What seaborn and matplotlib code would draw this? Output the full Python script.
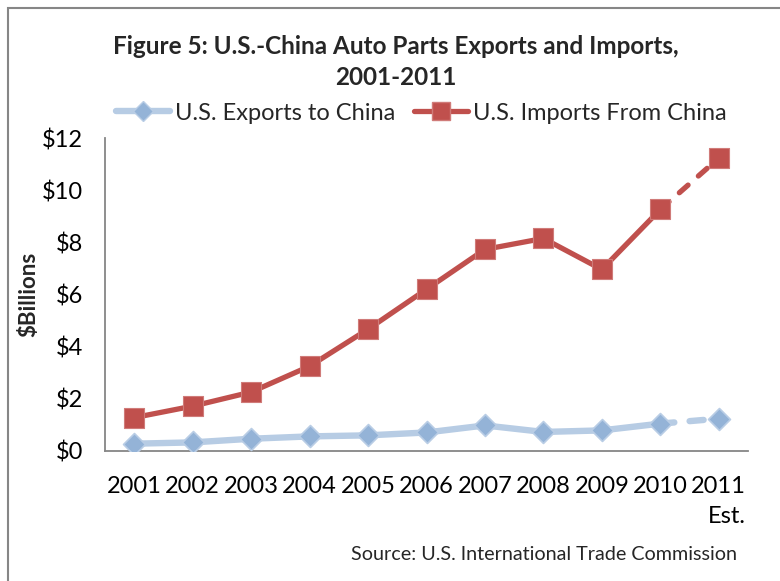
import matplotlib
matplotlib.use("Agg")
import matplotlib.pyplot as plt
import seaborn as sns
import pandas as pd
from matplotlib.lines import Line2D
from matplotlib.patches import Rectangle

# Data ($ billions)
years = ["2001", "2002", "2003", "2004", "2005", "2006",
         "2007", "2008", "2009", "2010", "2011"]
tick_labels = ["2001", "2002", "2003", "2004", "2005", "2006",
               "2007", "2008", "2009", "2010", "2011\nEst."]
exports = [0.28, 0.33, 0.47, 0.56, 0.60, 0.71, 0.98, 0.73, 0.79, 1.05, 1.24]
imports = [1.28, 1.72, 2.26, 3.25, 4.67, 6.20, 7.73, 8.15, 6.96, 9.26, 11.23]
yticks = [0, 2, 4, 6, 8, 10, 12]

sns.set_theme(style="white")
plt.rcParams["font.family"] = ["Lato", "DejaVu Sans"]

df = pd.DataFrame({"pos": range(len(years)), "year": years,
                   "exports": exports, "imports": imports})
actual = df.iloc[:-1]
estimate = df.iloc[-2:]

fig = plt.figure(figsize=(7.8, 5.81), dpi=100)
ax = fig.add_axes([105 / 780, 1 - 451 / 581, (748 - 105) / 780, (451 - 138) / 581])

exp_line = "#B7CCE4"
exp_mark = "#94B3D7"
imp_col = "#C0504D"

# Exports series
sns.lineplot(data=actual, x="pos", y="exports", ax=ax, color=exp_line,
             linewidth=4.6, solid_capstyle="round", zorder=2)
sns.lineplot(data=estimate, x="pos", y="exports", ax=ax, color=exp_line,
             linewidth=4.6, zorder=2)
ax.lines[-1].set_linestyle((0, (2.2, 2.4)))
ax.lines[-1].set_dash_capstyle("round")
sns.scatterplot(data=df, x="pos", y="exports", ax=ax, marker="D", s=125,
                color=exp_mark, edgecolor="#B9CDE5", linewidth=1.2, zorder=4)

# Imports series
sns.lineplot(data=actual, x="pos", y="imports", ax=ax, color=imp_col,
             linewidth=3.8, zorder=3)
sns.lineplot(data=estimate, x="pos", y="imports", ax=ax, color=imp_col,
             linewidth=3.8, zorder=3)
ax.lines[-1].set_linestyle((0, (2.2, 2.6)))
ax.lines[-1].set_dash_capstyle("round")
sns.scatterplot(data=df, x="pos", y="imports", ax=ax, marker="s", s=190,
                color=imp_col, edgecolor="#D07B79", linewidth=0.8, zorder=5)

ax.set_xlim(-0.5, len(years) - 0.5)
ax.set_ylim(0, 12)
ax.set_yticks(yticks)
ax.set_yticklabels([f"${v}" for v in yticks])
ax.set_xticks(range(len(years)))
ax.set_xticklabels(tick_labels, multialignment="right")
ax.tick_params(axis="both", length=0, labelsize=17, colors="black")
ax.tick_params(axis="y", pad=16)
ax.tick_params(axis="x", pad=18)
for lbl in ax.get_xticklabels():
    lbl.set_linespacing(1.55)
ax.set_xlabel("")
ax.set_ylabel("$Billions", fontsize=16, fontweight="bold")
ax.yaxis.set_label_coords(-0.102, 0.5)

for side in ("top", "right"):
    ax.spines[side].set_visible(False)
for side in ("left", "bottom"):
    ax.spines[side].set_color("#868686")
    ax.spines[side].set_linewidth(1.3)

handles = [
    Line2D([], [], color=exp_line, linewidth=4.6, marker="D", markersize=10,
           markerfacecolor=exp_mark, markeredgecolor="#B9CDE5"),
    Line2D([], [], color=imp_col, linewidth=3.8, marker="s", markersize=13,
           markerfacecolor=imp_col, markeredgecolor="#D07B79"),
]
fig.legend(handles, ["U.S. Exports to China", "U.S. Imports From China"],
           loc="center", bbox_to_anchor=(421 / 780, 1 - 113 / 581), ncol=2,
           frameon=False, fontsize=17, handlelength=2.3, handletextpad=0.2,
           columnspacing=0.8, borderpad=0)

fig.text(396 / 780, 1 - 62 / 581,
         "Figure 5: U.S.-China Auto Parts Exports and Imports,\n2001-2011",
         ha="center", va="center", fontsize=17.5, fontweight="bold",
         linespacing=1.4)

fig.text(737 / 780, 1 - 555 / 581, "Source: U.S. International Trade Commission",
         ha="right", va="center", fontsize=14.2)

# Outer chart border
fig.patches.append(Rectangle((8 / 780, -0.2), 1.5, 1 - 8 / 581 + 0.2,
                             transform=fig.transFigure, fill=False,
                             edgecolor="#868686", linewidth=1.5))

fig.savefig("out.png", dpi=100, facecolor="white")
